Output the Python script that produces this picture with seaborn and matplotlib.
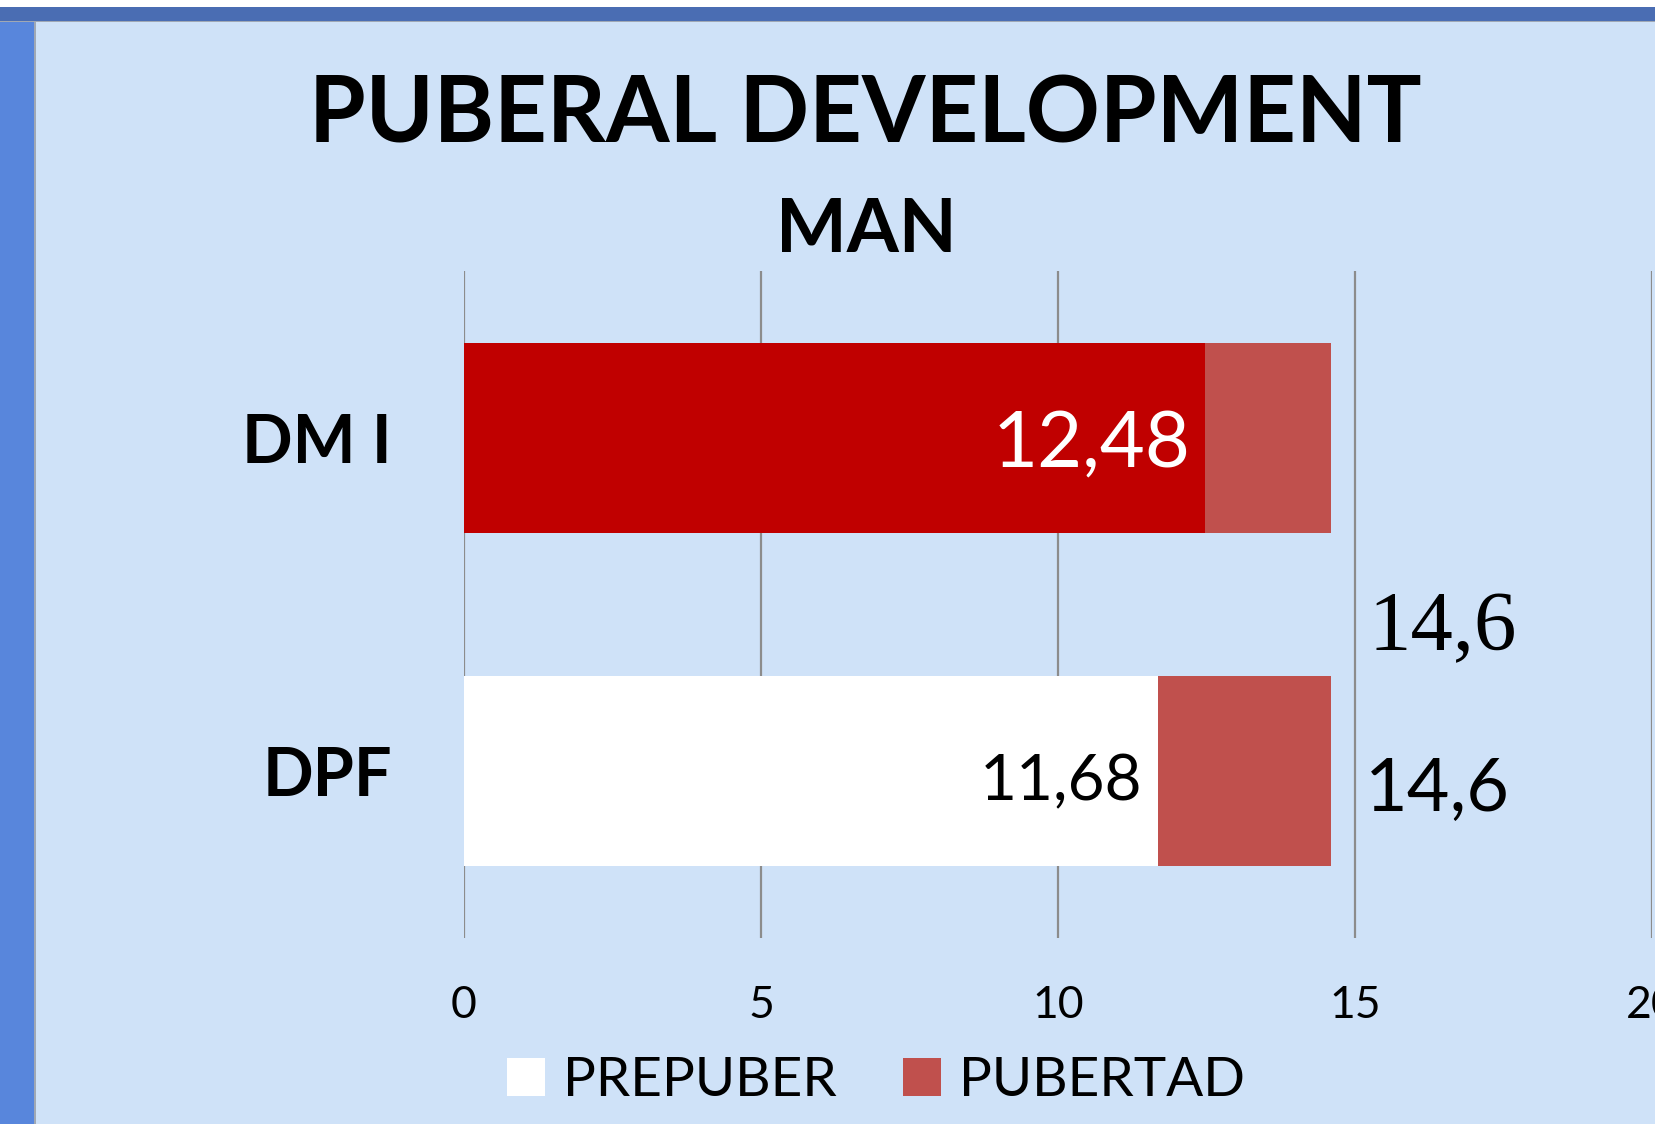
import matplotlib
matplotlib.use("Agg")
import matplotlib.pyplot as plt
from matplotlib.patches import Rectangle, Patch
import seaborn as sns
import pandas as pd

# ---- data ----
categories = ["DM I", "DPF"]
prepuber = [12.48, 11.68]
pubertad = [14.6, 14.6]
prepuber_labels = ["12,48", "11,68"]
pubertad_labels = ["14,6", "14,6"]
x_ticks = [0, 5, 10, 15, 20]

BG = "#CFE2F8"
C_PUB = "#C0504D"
C_PRE = {"DM I": "#C00000", "DPF": "#FFFFFF"}
GRID = "#8C8C8C"

sns.set_style("white")
plt.rcParams["font.family"] = ["Lato", "DejaVu Sans"]
plt.rcParams["text.color"] = "black"
plt.rcParams["axes.labelcolor"] = "black"
plt.rcParams["xtick.color"] = "black"
plt.rcParams["ytick.color"] = "black"

W, H = 1655, 1124
fig = plt.figure(figsize=(W / 100, H / 100), dpi=100, facecolor=BG)

def fx(px):
    return px / W

def fy(py):
    return 1 - py / H

# frame decorations
fig.patches.append(Rectangle((0, fy(H)), fx(34), fy(21) - fy(H), transform=fig.transFigure,
                             facecolor="#5886DC", edgecolor="none", zorder=0))
fig.patches.append(Rectangle((fx(34), fy(H)), fx(2), fy(22) - fy(H), transform=fig.transFigure,
                             facecolor="#A0A8B4", edgecolor="none", zorder=0))
fig.patches.append(Rectangle((0, fy(21)), 1, fy(7) - fy(21), transform=fig.transFigure,
                             facecolor="#4A6DB3", edgecolor="none", zorder=0))
fig.patches.append(Rectangle((0, fy(22)), 1, fy(21) - fy(22), transform=fig.transFigure,
                             facecolor="#A0A8B4", edgecolor="none", zorder=0))
fig.patches.append(Rectangle((0, fy(7)), 1, 1 - fy(7), transform=fig.transFigure,
                             facecolor="#FFFFFF", edgecolor="none", zorder=0))

ax_l, ax_r, ax_t, ax_b = 464, 1652, 271, 938
ax = fig.add_axes([fx(ax_l), fy(ax_b), fx(ax_r - ax_l), fy(ax_t) - fy(ax_b)])
ax.set_facecolor("none")

df = pd.DataFrame({"cat": categories, "pre": prepuber, "pub": pubertad})

# pubertad (full length) then prepuber on top
sns.barplot(data=df, x="pub", y="cat", orient="h", color=C_PUB, width=0.57,
            ax=ax, zorder=2, linewidth=0, saturation=1)
sns.barplot(data=df, x="pre", y="cat", hue="cat", palette=C_PRE, orient="h",
            width=0.57, dodge=False, legend=False, ax=ax, zorder=3, linewidth=0,
            saturation=1)

ax.set_xlim(0, 20)
ax.set_ylim(1.5, -0.5)
ax.set_xticks(x_ticks)
ax.set_xticklabels([str(t) for t in x_ticks])
ax.set_xlabel("")
ax.set_ylabel("")
ax.grid(axis="x", color=GRID, linewidth=1.6)
ax.grid(axis="y", visible=False)
ax.set_axisbelow(True)
for s in ax.spines.values():
    s.set_visible(False)
ax.tick_params(axis="x", length=0, pad=34, labelsize=32, labelcolor="black")
ax.tick_params(axis="y", length=0, pad=52, labelcolor="black")
for lab in ax.get_yticklabels():
    lab.set_fontsize(48)
    lab.set_fontweight("bold")

# value labels
pre_style = [dict(color="white", fontsize=56), dict(color="black", fontsize=46)]
pre_dy = [-6, -8]
for i, (v, lab) in enumerate(zip(prepuber, prepuber_labels)):
    ax.annotate(lab, xy=(v, i), xytext=(-11, pre_dy[i]), textcoords="offset points",
                ha="right", va="center", **pre_style[i], zorder=5)

# DPF pubertad label (sans)
ax.annotate(pubertad_labels[1], xy=(pubertad[1], 1), xytext=(24, -14),
            textcoords="offset points", ha="left", va="center",
            fontsize=53, color="black", zorder=5, annotation_clip=False)
# DM I pubertad label (serif, displaced)
ax.annotate(pubertad_labels[0], xy=(pubertad[0], 0), xytext=(27, -138),
            textcoords="offset points", ha="left", va="center",
            fontsize=61, color="black", family=["Liberation Serif", "DejaVu Serif"],
            zorder=5, annotation_clip=False)

# titles
fig.text(fx(865), fy(142.5), "PUBERAL DEVELOPMENT", ha="center", va="baseline",
         fontsize=66, fontweight="bold", color="black")
fig.text(fx(866), fy(252), "MAN", ha="center", va="baseline",
         fontsize=54, fontweight="bold", color="black")

# legend
handles = [Patch(facecolor="#FFFFFF", edgecolor="none", label="PREPUBER"),
           Patch(facecolor=C_PUB, edgecolor="none", label="PUBERTAD")]
leg = fig.legend(handles=handles, loc="center", bbox_to_anchor=(fx(876), fy(1081)),
                 bbox_transform=fig.transFigure, ncol=2, frameon=False, fontsize=39.5,
                 handlelength=0.7, handleheight=0.68, handletextpad=0.33,
                 columnspacing=1.2, borderpad=0, labelcolor="black")

fig.savefig("out.png", dpi=100, facecolor=BG)
